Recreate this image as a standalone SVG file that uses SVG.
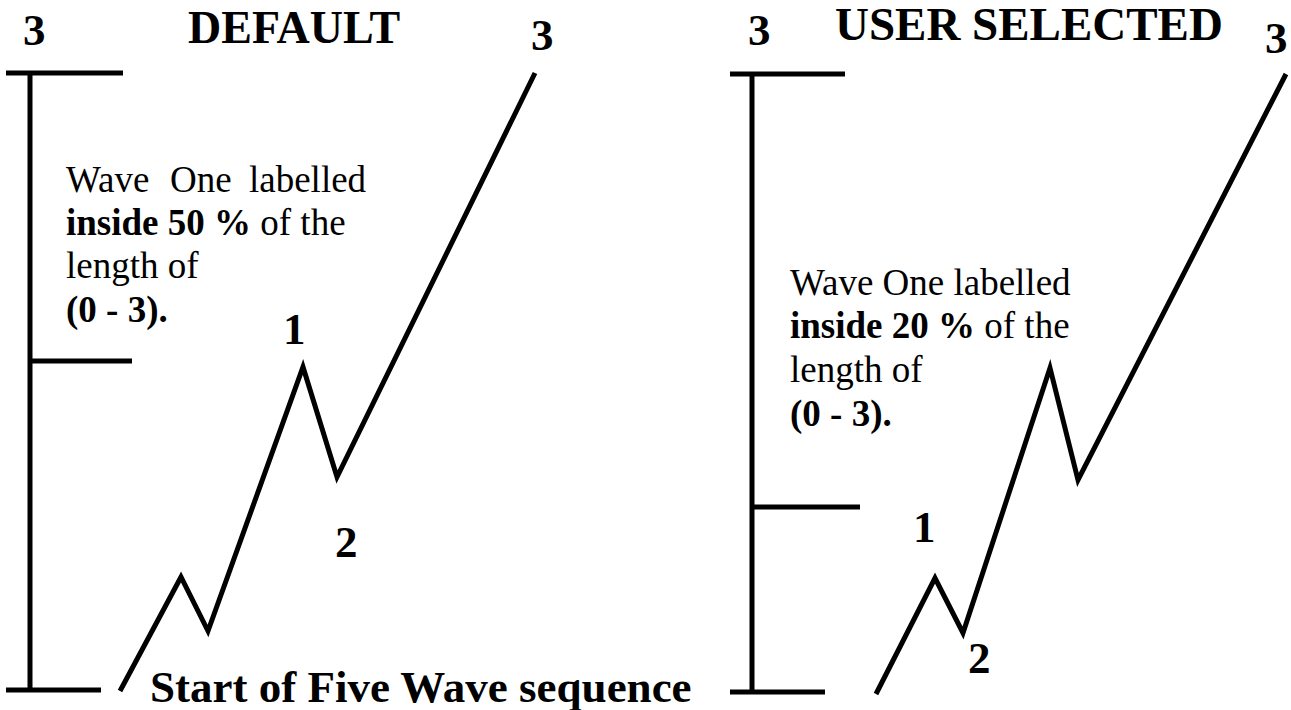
<svg xmlns="http://www.w3.org/2000/svg" width="1291" height="710" viewBox="0 0 1291 710">
<style>
.ln{stroke:#000;stroke-width:5;fill:none;stroke-linejoin:miter;stroke-miterlimit:10}
.t{font-family:"Liberation Serif","Times New Roman",serif;fill:#000}
.b{font-weight:bold}
.big{font-size:45px;font-weight:bold}
.p{font-size:37px}
</style>
<rect width="1291" height="710" fill="#fff"/>
<g id="connectors">
<polyline class="ln" points="30,73 30,690"/>
<polyline class="ln" points="6,73 123,73"/>
<polyline class="ln" points="30,361 132,361"/>
<polyline class="ln" points="6,690 101,690"/>
<polyline class="ln" points="120,691 181,577 208,631 303,367 337,477 535,73"/>
<polyline class="ln" points="752,74 752,692"/>
<polyline class="ln" points="730,74 845,74"/>
<polyline class="ln" points="752,507 860,507"/>
<polyline class="ln" points="730,692 825,692"/>
<polyline class="ln" points="876,694 935,578 963,633 1050,368 1078,480 1286,74"/>
</g>
<g id="default-title"><text class="t big" x="23" y="45">3</text><text class="t big" x="188" y="43" style="font-size:46px">DEFAULT</text><text class="t big" x="531" y="50">3</text></g>
<g id="default-labels"><text class="t big" x="283" y="344">1</text><text class="t big" x="335" y="557">2</text></g>
<g id="default-note">
<text class="t p" y="192"><tspan x="66">Wave</tspan><tspan x="170">One</tspan><tspan x="249">labelled</tspan></text>
<text class="t p" x="66" y="235"><tspan class="b">inside 50 %</tspan> of the</text>
<text class="t p" x="66" y="278">length of</text>
<text class="t p b" x="66" y="322">(0 - 3).</text>
</g>
<g id="user-title"><text class="t big" x="748" y="45">3</text><text class="t big" x="835" y="40" style="font-size:47px">USER SELECTED</text><text class="t big" x="1265" y="53">3</text></g>
<g id="user-labels"><text class="t big" x="913" y="542">1</text><text class="t big" x="968" y="673">2</text></g>
<g id="user-note">
<text class="t p" x="790" y="295">Wave One labelled</text>
<text class="t p" x="790" y="338"><tspan class="b">inside 20 %</tspan> of the</text>
<text class="t p" x="790" y="382">length of</text>
<text class="t p b" x="790" y="426">(0 - 3).</text>
</g>
<g id="start-label"><text class="t big" x="150" y="702">Start of Five Wave sequence</text></g>
</svg>
